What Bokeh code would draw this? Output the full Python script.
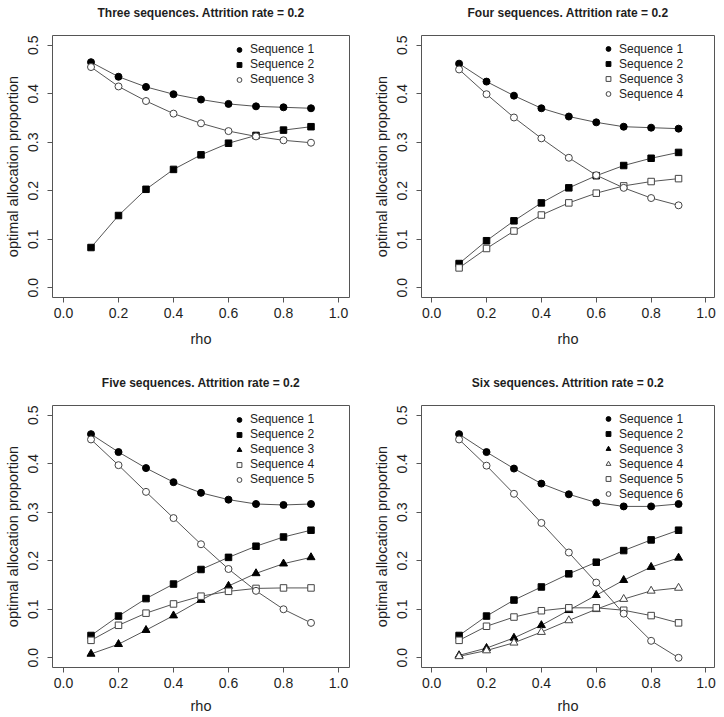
from bokeh.plotting import figure
from bokeh.layouts import column, row
from bokeh.models import (FixedTicker, PrintfTickFormatter, Range1d, Legend,
                          LegendItem)
from bokeh.embed import file_html
from bokeh.resources import INLINE

# ---------------- data ----------------
rho = [0.1, 0.2, 0.3, 0.4, 0.5, 0.6, 0.7, 0.8, 0.9]
x_ticks = [0.0, 0.2, 0.4, 0.6, 0.8, 1.0]
y_ticks = [0.0, 0.1, 0.2, 0.3, 0.4, 0.5]

titles = ["Three sequences. Attrition rate = 0.2",
          "Four sequences. Attrition rate = 0.2",
          "Five sequences. Attrition rate = 0.2",
          "Six sequences. Attrition rate = 0.2"]

# three sequences
p3_seq1 = [0.465, 0.435, 0.414, 0.399, 0.388, 0.379, 0.374, 0.372, 0.370]
p3_seq2 = [0.083, 0.149, 0.203, 0.244, 0.274, 0.298, 0.314, 0.325, 0.332]
p3_seq3 = [0.455, 0.415, 0.385, 0.359, 0.339, 0.323, 0.312, 0.304, 0.299]

# four sequences
p4_seq1 = [0.462, 0.425, 0.396, 0.370, 0.353, 0.341, 0.332, 0.330, 0.328]
p4_seq2 = [0.050, 0.097, 0.138, 0.175, 0.206, 0.231, 0.252, 0.267, 0.279]
p4_seq3 = [0.041, 0.081, 0.117, 0.150, 0.175, 0.195, 0.210, 0.219, 0.225]
p4_seq4 = [0.450, 0.399, 0.351, 0.308, 0.268, 0.232, 0.206, 0.185, 0.170]

# five sequences
p5_seq1 = [0.461, 0.424, 0.391, 0.362, 0.340, 0.326, 0.317, 0.315, 0.317]
p5_seq2 = [0.046, 0.086, 0.122, 0.152, 0.182, 0.207, 0.230, 0.249, 0.263]
p5_seq3 = [0.008, 0.028, 0.057, 0.087, 0.119, 0.148, 0.174, 0.194, 0.207]
p5_seq4 = [0.036, 0.067, 0.092, 0.111, 0.127, 0.137, 0.143, 0.144, 0.144]
p5_seq5 = [0.450, 0.397, 0.342, 0.288, 0.234, 0.183, 0.138, 0.100, 0.072]

# six sequences
p6_seq1 = [0.461, 0.424, 0.390, 0.359, 0.337, 0.320, 0.312, 0.312, 0.317]
p6_seq2 = [0.046, 0.086, 0.119, 0.146, 0.173, 0.197, 0.221, 0.243, 0.263]
p6_seq3 = [0.005, 0.020, 0.041, 0.067, 0.098, 0.129, 0.160, 0.187, 0.206]
p6_seq4 = [0.003, 0.015, 0.031, 0.053, 0.077, 0.100, 0.121, 0.138, 0.144]
p6_seq5 = [0.036, 0.065, 0.084, 0.097, 0.103, 0.103, 0.098, 0.087, 0.072]
p6_seq6 = [0.450, 0.396, 0.338, 0.278, 0.217, 0.155, 0.091, 0.035, 0.000]

# marker styles (R pch 16, 15, 17, 2, 0, 1)
FC = ("circle", True)
FS = ("square", True)
FT = ("triangle", True)
OT = ("triangle", False)
OS = ("square", False)
OC = ("circle", False)

panels = [
    [(p3_seq1, FC), (p3_seq2, FS), (p3_seq3, OC)],
    [(p4_seq1, FC), (p4_seq2, FS), (p4_seq3, OS), (p4_seq4, OC)],
    [(p5_seq1, FC), (p5_seq2, FS), (p5_seq3, FT), (p5_seq4, OS), (p5_seq5, OC)],
    [(p6_seq1, FC), (p6_seq2, FS), (p6_seq3, FT), (p6_seq4, OT), (p6_seq5, OS),
     (p6_seq6, OC)],
]

FONT = "Liberation Sans"
TXT = "#1e1e1e"
GRAY = "#555555"
SIZES = {"circle": 7, "square": 6.5, "triangle": 8}


def make_panel(idx, width, height, bl, br, bt, bb, xr, rowtwo):
    p = figure(width=width, height=height, output_backend="svg",
               toolbar_location=None, min_border_left=bl, min_border_right=br,
               min_border_top=bt, min_border_bottom=bb,
               x_range=Range1d(*xr), y_range=Range1d(-0.02, 0.52))
    p.grid.visible = False
    p.outline_line_color = GRAY
    p.outline_line_width = 1
    p.background_fill_color = "white"
    p.border_fill_color = "white"

    frame_h = height - bt - bb

    # two-line title (empty second line) so that the first line sits
    # ~22px above the frame while the title box still fits the border
    p.title.text = titles[idx] + "\n"
    p.title.align = "center"
    p.title.vertical_align = "top"
    p.title.standoff = 0
    p.title.text_font = FONT
    p.title.text_font_size = "12px"
    p.title.text_font_style = "bold"
    p.title.text_color = TXT

    for ax in (p.xaxis[0], p.yaxis[0]):
        ax.axis_line_color = None
        ax.major_tick_in = 0
        ax.major_tick_out = 5
        ax.major_tick_line_color = GRAY
        ax.minor_tick_line_color = None
        ax.major_label_text_font = FONT
        ax.major_label_text_font_size = "14px"
        ax.major_label_text_color = TXT
        ax.axis_label_text_font = FONT
        ax.axis_label_text_font_size = "14.5px"
        ax.axis_label_text_font_style = "normal"
        ax.axis_label_text_color = TXT
        ax.formatter = PrintfTickFormatter(format="%.1f")

    p.xaxis.ticker = FixedTicker(ticks=x_ticks)
    p.yaxis.ticker = FixedTicker(ticks=y_ticks)
    p.xaxis.axis_label = "rho"
    p.yaxis.axis_label = "optimal allocation proportion"
    p.yaxis.major_label_orientation = "vertical"
    p.xaxis.major_label_standoff = 5
    p.xaxis.axis_label_standoff = 7 if rowtwo else 10
    p.yaxis.major_label_standoff = 9
    p.yaxis.axis_label_standoff = 5

    items = []
    for k, (vals, (marker, filled)) in enumerate(panels[idx]):
        p.line(rho, vals, line_color=GRAY, line_width=1)
        r = p.scatter(rho, vals, marker=marker, size=SIZES[marker],
                      fill_color="black" if filled else "white",
                      line_color="black" if filled else "#444444",
                      line_width=1)
        items.append(LegendItem(label="Sequence %d" % (k + 1), renderers=[r]))

    n = len(items)
    top_gap = 6 if idx % 2 else 6.5
    leg = Legend(items=items, location=(181, frame_h - top_gap - 15 * n),
                 padding=0, margin=0, spacing=0, glyph_width=12,
                 glyph_height=15, label_height=15, label_standoff=5,
                 label_text_font=FONT, label_text_font_size="12px",
                 label_text_color=TXT, border_line_alpha=0,
                 background_fill_alpha=0)
    p.add_layout(leg)
    return p


p1 = make_panel(0, 362, 358, 52, 13, 35, 61, (-0.04, 1.04), False)
p2 = make_panel(1, 362, 358, 59, 10, 35, 61, (-0.037, 1.031), False)
p3 = make_panel(2, 362, 359, 52, 13, 47, 50, (-0.04, 1.04), True)
p4 = make_panel(3, 362, 359, 59, 10, 47, 50, (-0.037, 1.031), True)

layout = column(row(p1, p2), row(p3, p4))
open("out.html", "w").write(file_html(layout, INLINE))
